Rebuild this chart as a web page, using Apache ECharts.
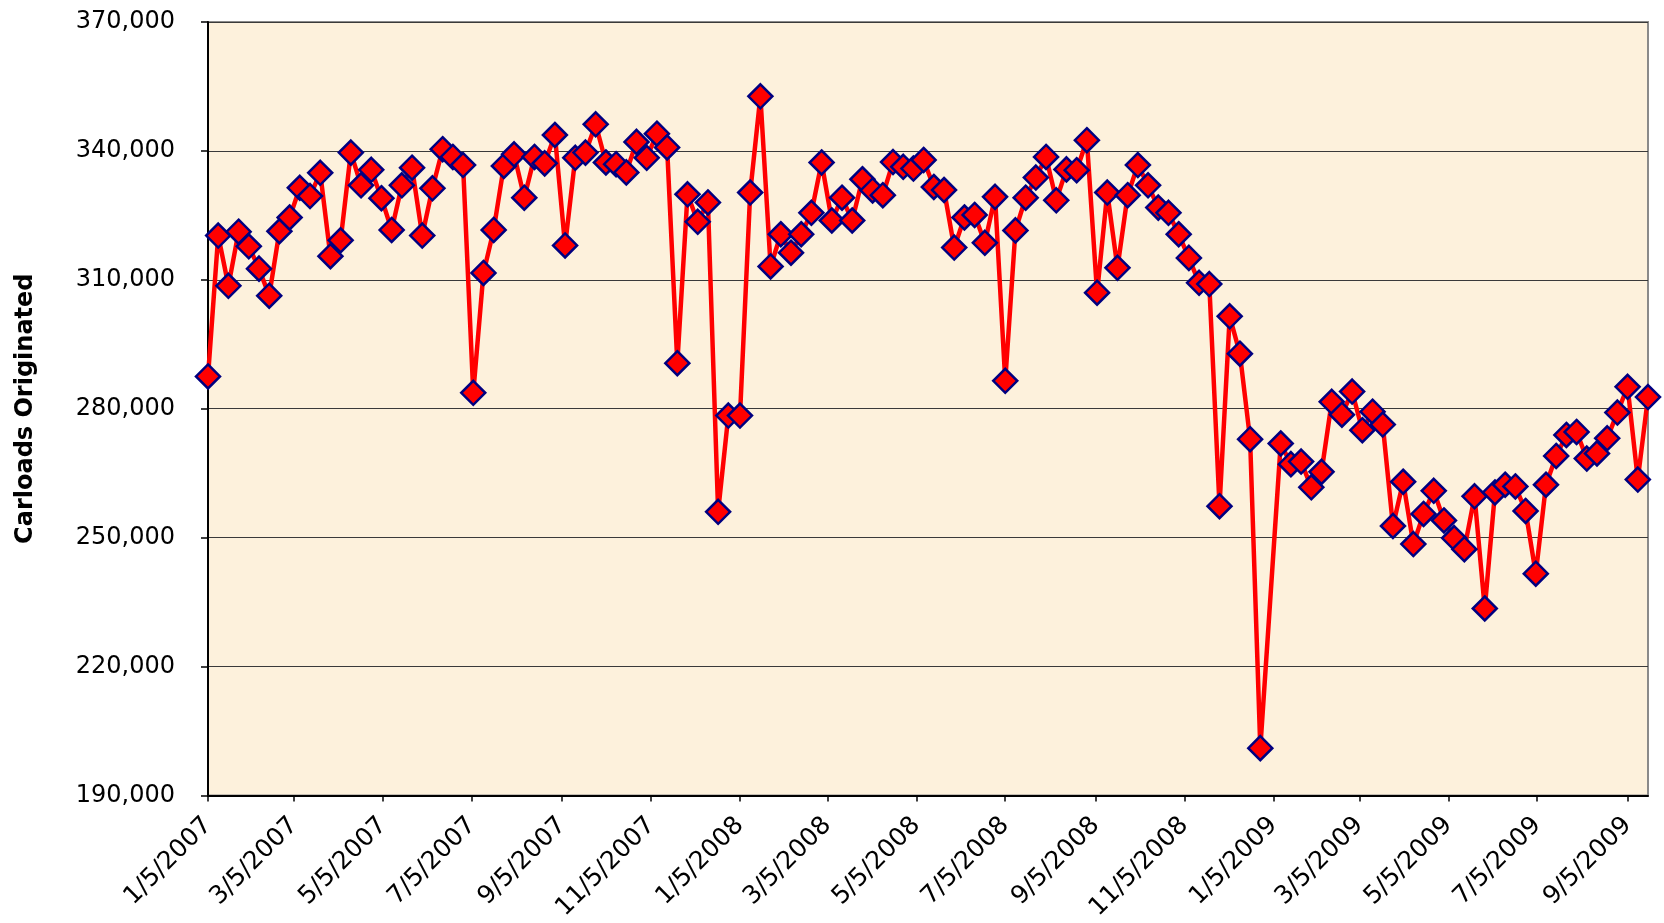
<!DOCTYPE html>
<html>
<head>
<meta charset="utf-8">
<script src="https://cdn.jsdelivr.net/npm/echarts@6/dist/echarts.min.js"></script>
<style>
html,body{margin:0;padding:0;background:#ffffff;}
#chart{width:1664px;height:923px;}
</style>
</head>
<body>
<div id="chart"></div>
<script>
const weeks2007 = ['1/5/2007','1/12/2007','1/19/2007','1/26/2007','2/2/2007','2/9/2007','2/16/2007','2/23/2007',
  '3/2/2007','3/9/2007','3/16/2007','3/23/2007','3/30/2007','4/6/2007','4/13/2007','4/20/2007','4/27/2007',
  '5/4/2007','5/11/2007','5/18/2007','5/25/2007','6/1/2007','6/8/2007','6/15/2007','6/22/2007','6/29/2007',
  '7/6/2007','7/13/2007','7/20/2007','7/27/2007','8/3/2007','8/10/2007','8/17/2007','8/24/2007','8/31/2007',
  '9/7/2007','9/14/2007','9/21/2007','9/28/2007','10/5/2007','10/12/2007','10/19/2007','10/26/2007',
  '11/2/2007','11/9/2007','11/16/2007','11/23/2007','11/30/2007','12/7/2007','12/14/2007','12/21/2007','12/28/2007'];
const weeks2008 = ['1/5/2008','1/12/2008','1/19/2008','1/26/2008','2/2/2008','2/9/2008','2/16/2008','2/23/2008',
  '3/1/2008','3/8/2008','3/15/2008','3/22/2008','3/29/2008','4/5/2008','4/12/2008','4/19/2008','4/26/2008',
  '5/3/2008','5/10/2008','5/17/2008','5/24/2008','5/31/2008','6/7/2008','6/14/2008','6/21/2008','6/28/2008',
  '7/5/2008','7/12/2008','7/19/2008','7/26/2008','8/2/2008','8/9/2008','8/16/2008','8/23/2008','8/30/2008',
  '9/6/2008','9/13/2008','9/20/2008','9/27/2008','10/4/2008','10/11/2008','10/18/2008','10/25/2008',
  '11/1/2008','11/8/2008','11/15/2008','11/22/2008','11/29/2008','12/6/2008','12/13/2008','12/20/2008','12/27/2008'];
const weeks2009 = ['1/10/2009','1/17/2009','1/24/2009','1/31/2009','2/7/2009','2/14/2009','2/21/2009','2/28/2009',
  '3/7/2009','3/14/2009','3/21/2009','3/28/2009','4/4/2009','4/11/2009','4/18/2009','4/25/2009',
  '5/2/2009','5/9/2009','5/16/2009','5/23/2009','5/30/2009','6/6/2009','6/13/2009','6/20/2009','6/27/2009',
  '7/4/2009','7/11/2009','7/18/2009','7/25/2009','8/1/2009','8/8/2009','8/15/2009','8/22/2009','8/29/2009',
  '9/5/2009','9/12/2009','9/19/2009'];

// Carloads originated, per week
const carloads2007 = [287500,320300,308600,321200,317800,312600,306300,321300,324500,331400,329500,334900,
  315500,319200,339600,332000,335600,329000,321600,332000,336100,320300,331300,340400,338600,336700,
  283700,311600,321600,336500,339200,329100,338600,337100,343700,318000,338400,339600,346200,337300,
  336900,335000,342100,338400,344000,340800,290600,329900,323500,328000,256000,278400];
const carloads2008 = [278400,330300,352700,313100,320600,316300,320600,325600,337300,323800,329100,323800,
  333400,330800,329700,337400,336300,335900,337900,331600,330900,317500,324500,325100,318600,329300,
  286500,321500,329100,333800,338600,328500,335700,335500,342500,307000,330300,312800,329700,336700,
  332000,326800,325600,320600,315100,309300,309000,257300,301500,292800,272900,201000];
const carloads2009 = [271900,267100,267700,261700,265300,281600,278600,284000,275000,279300,276300,252700,
  263000,248500,255500,260900,254000,249900,247300,259600,233500,260500,262300,261900,256200,241600,
  262300,269000,273900,274600,268400,269600,273100,279100,285100,263500,282700];

// Axis tick labels
const xTickLabels = ['1/5/2007','3/5/2007','5/5/2007','7/5/2007','9/5/2007','11/5/2007',
  '1/5/2008','3/5/2008','5/5/2008','7/5/2008','9/5/2008','11/5/2008',
  '1/5/2009','3/5/2009','5/5/2009','7/5/2009','9/5/2009'];
const xMinLabel = '1/5/2007';
const xMaxLabel = '9/19/2009';
const yTickLabels = ['190,000','220,000','250,000','280,000','310,000','340,000','370,000'];
const yTitle = 'Carloads Originated';

function toTime(s) {
  const p = s.split('/').map(Number);
  return Date.UTC(p[2], p[0] - 1, p[1]);
}
function fmtTime(v) {
  const d = new Date(v);
  return (d.getUTCMonth() + 1) + '/' + d.getUTCDate() + '/' + d.getUTCFullYear();
}

const allWeeks = weeks2007.concat(weeks2008, weeks2009);
const allValues = carloads2007.concat(carloads2008, carloads2009);
const seriesData = allWeeks.map((w, i) => [toTime(w), allValues[i]]);
const tickTimes = xTickLabels.map(toTime);
const yVals = yTickLabels.map(s => Number(s.replace(/,/g, '')));

const chart = echarts.init(document.getElementById('chart'), null, {renderer: 'canvas'});
chart.setOption({
  animation: false,
  backgroundColor: '#ffffff',
  grid: {
    left: 208, right: 16, top: 22, bottom: 127,
    show: true,
    backgroundColor: '#FDF1DC',
    borderColor: '#8a8a8a',
    borderWidth: 2
  },
  xAxis: {
    type: 'value',
    min: toTime(xMinLabel),
    max: toTime(xMaxLabel),
    axisLine: {show: true, onZero: false, lineStyle: {color: '#000', width: 2}},
    axisTick: {show: true, length: 6, lineStyle: {color: '#000', width: 1.5}, customValues: tickTimes},
    axisLabel: {
      customValues: tickTimes,
      rotate: 45,
      margin: 26,
      fontFamily: 'DejaVu Sans',
      fontSize: 25,
      color: '#000',
      formatter: function (v) { return fmtTime(v); }
    },
    splitLine: {show: false}
  },
  yAxis: {
    type: 'value',
    min: yVals[0],
    max: yVals[yVals.length - 1],
    interval: yVals[1] - yVals[0],
    name: yTitle,
    nameLocation: 'middle',
    nameGap: 170,
    nameTextStyle: {fontFamily: 'DejaVu Sans', fontWeight: 'bold', fontSize: 24, color: '#000'},
    axisLine: {show: true, lineStyle: {color: '#000', width: 2}},
    axisTick: {show: true, length: 7, lineStyle: {color: '#000', width: 1.5}},
    axisLabel: {
      margin: 33,
      fontFamily: 'DejaVu Sans',
      fontSize: 24,
      color: '#000',
      formatter: function (v) { return v.toLocaleString('en-US'); }
    },
    splitLine: {show: true, lineStyle: {color: '#3a3a3a', width: 1}}
  },
  series: [{
    type: 'line',
    data: seriesData,
    symbol: 'diamond',
    symbolSize: 24,
    showAllSymbol: true,
    lineStyle: {color: '#FF0000', width: 4.5},
    itemStyle: {color: '#FF0000', borderColor: '#000080', borderWidth: 2.5},
    emphasis: {disabled: true}
  }]
});
</script>
</body>
</html>
